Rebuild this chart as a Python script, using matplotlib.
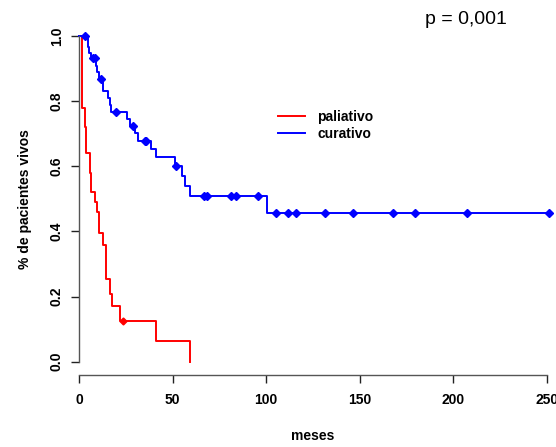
import matplotlib
matplotlib.use("Agg")
import matplotlib.pyplot as plt

plt.rcParams['font.family'] = ['Liberation Sans', 'DejaVu Sans']

# paliativo: event times (months) and survival after each step
pal_times = [0, 1.4, 3.0, 4.0, 6.1, 6.6, 8.6, 9.6, 10.9, 12.8, 14.4, 16.6, 17.5, 21.8, 40.9, 59.4]
pal_surv = [1.0, 0.78, 0.721, 0.641, 0.58, 0.52, 0.49, 0.46, 0.395, 0.359, 0.254, 0.209, 0.171, 0.126, 0.065, 0.0]
pal_cens_t = [23.5]
pal_cens_s = [0.126]

# curativo
cur_times = [0, 4.8, 5.3, 6.3, 8.9, 9.6, 10.7, 12.8, 15.5, 16.4, 17.3, 25.7, 27.5, 29.8, 31.6,
             38.7, 41.0, 51.2, 54.8, 56.7, 59.4, 100.2, 251]
cur_surv = [1.0, 0.965, 0.947, 0.932, 0.908, 0.89, 0.867, 0.831, 0.809, 0.788, 0.768, 0.744, 0.724,
            0.701, 0.678, 0.652, 0.627, 0.601, 0.571, 0.54, 0.51, 0.457, 0.457]
cur_cens_t = [3.0, 7.5, 8.4, 12.0, 20.0, 28.8, 35.1, 35.9, 51.7, 66.7, 68.4, 81.4, 83.8, 95.7,
              105, 111.4, 115.7, 131.4, 146.2, 167.6, 179.4, 207.5, 251]
cur_cens_s = [1.0, 0.932, 0.932, 0.867, 0.768, 0.724, 0.678, 0.678, 0.601, 0.51, 0.51, 0.51, 0.51, 0.51,
              0.457, 0.457, 0.457, 0.457, 0.457, 0.457, 0.457, 0.457, 0.457]

fig = plt.figure(figsize=(5.56, 4.47), dpi=100)
ax = fig.add_axes([79 / 556, 1 - 374.7 / 447, 468 / 556, (374.7 - 23) / 447])

ax.step(pal_times, pal_surv, where='post', color='red', lw=1.4, label='paliativo')
ax.step(cur_times, cur_surv, where='post', color='blue', lw=1.4, label='curativo', clip_on=False)
ax.plot(pal_cens_t, pal_cens_s, 'D', color='red', ms=3.5, mec='red', clip_on=False)
ax.plot(cur_cens_t, cur_cens_s, 'D', color='blue', ms=3.8, mec='blue', clip_on=False)

ax.set_xlim(0, 250)
ax.set_ylim(-0.04, 1.04)
ax.set_xticks([0, 50, 100, 150, 200, 250])
ax.set_yticks([0.0, 0.2, 0.4, 0.6, 0.8, 1.0])
ax.set_yticklabels(['0.0', '0.2', '0.4', '0.6', '0.8', '1.0'], rotation=90, va='center')

for s in ['top', 'right']:
    ax.spines[s].set_visible(False)
ax.spines['left'].set_bounds(0, 1)
ax.spines['bottom'].set_bounds(0, 250)
for s in ['left', 'bottom']:
    ax.spines[s].set_color('#555555')
    ax.spines[s].set_linewidth(1)

ax.tick_params(length=6, width=1, color='#222222', labelsize=10)
ax.tick_params(axis='x', pad=7)
ax.tick_params(axis='y', pad=5)
for lab in ax.get_xticklabels() + ax.get_yticklabels():
    lab.set_fontweight('bold')

ax.set_xlabel('meses', fontsize=10, fontweight='bold', labelpad=16)
ax.set_ylabel('% de pacientes vivos', fontsize=10, fontweight='bold', labelpad=13)

fig.legend(loc='center left', bbox_to_anchor=(278.3 / 556, 1 - 125.5 / 447), frameon=False,
           borderpad=0, borderaxespad=0, handlelength=1.9, handletextpad=0.9, labelspacing=0.25,
           prop={'size': 10, 'weight': 'bold'})

fig.text(466 / 556, 1 - 19 / 447, 'p = 0,001', fontsize=14, ha='center', va='center')

fig.savefig('out.png', dpi=100)
